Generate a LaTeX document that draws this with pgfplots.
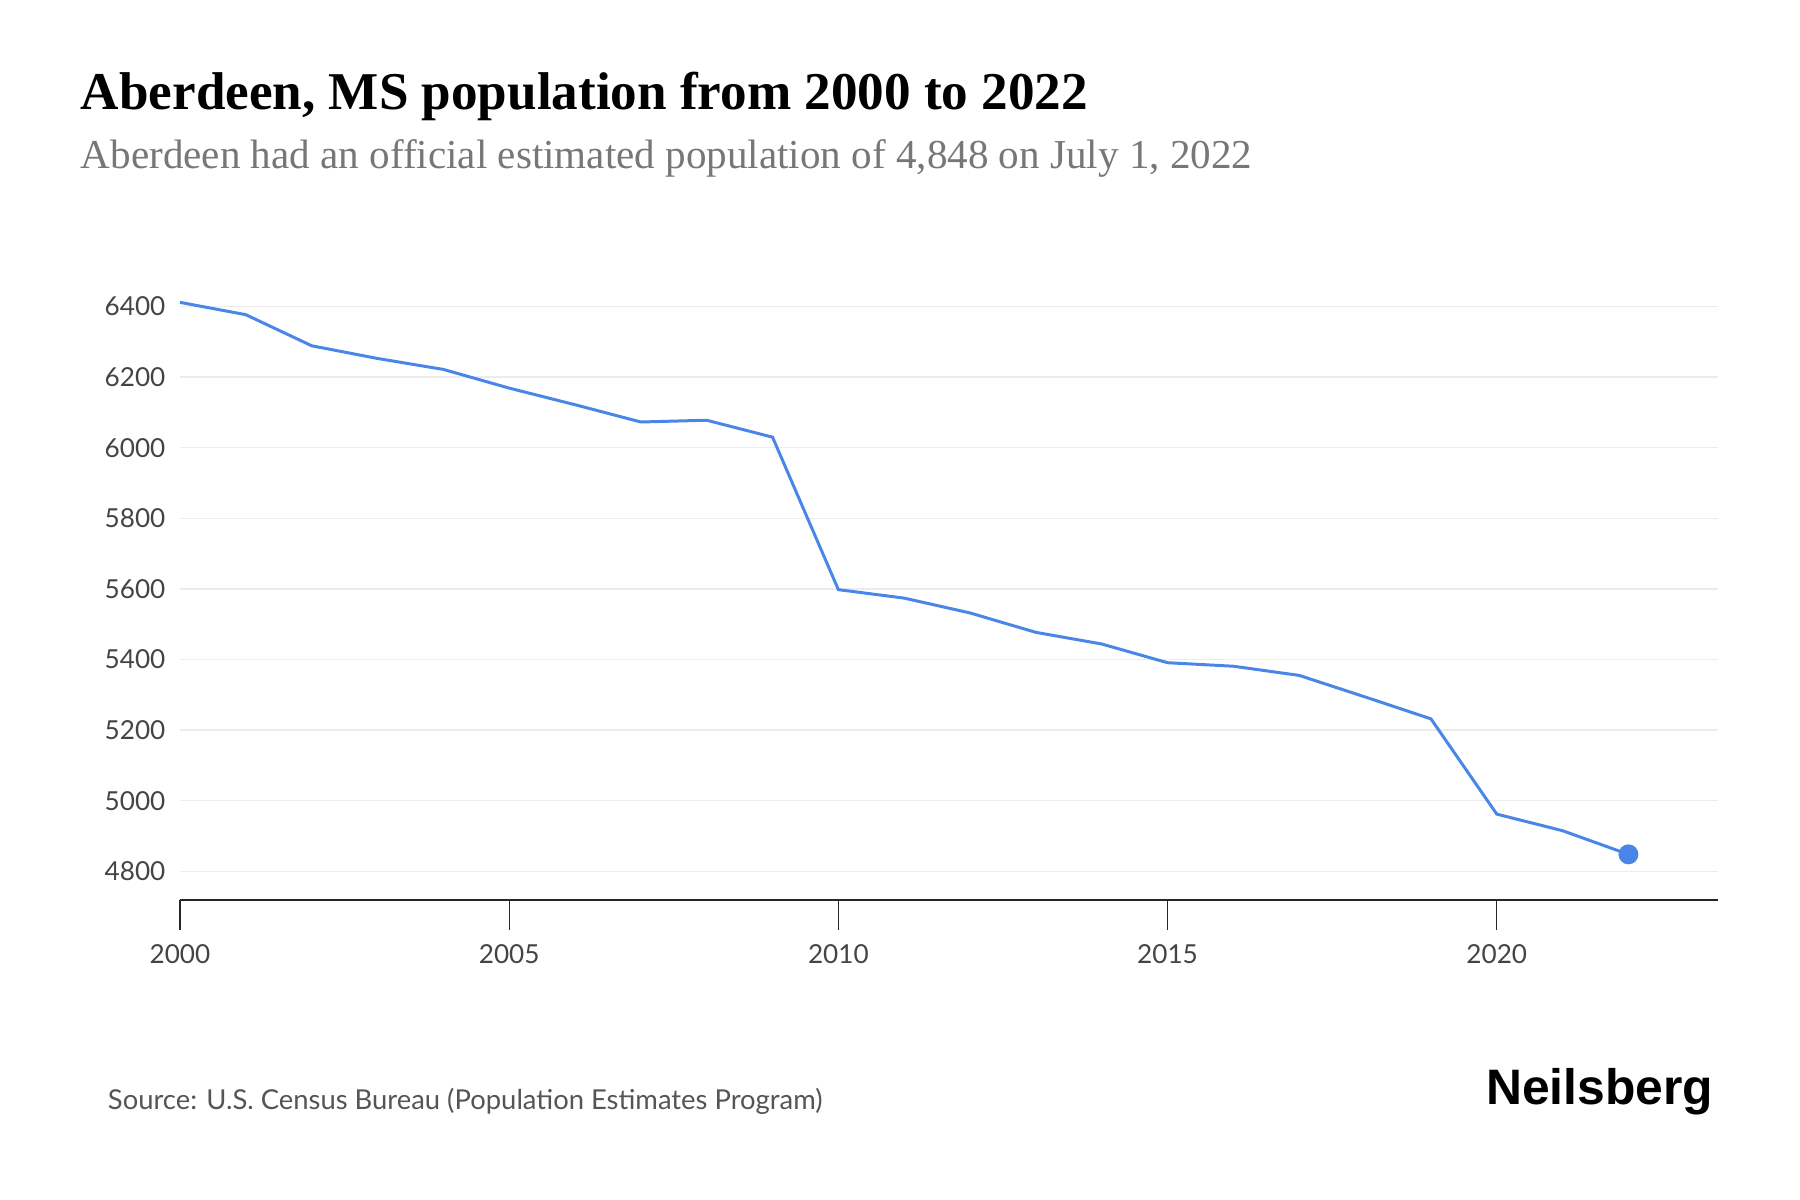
\documentclass[border=0pt]{standalone}
\usepackage{fontspec}
\usepackage{pgfplots}
\pgfplotsset{compat=1.18}
\setmainfont{Liberation Serif}
\newfontfamily\tickfont{Lato}
\newfontfamily\logofont{Liberation Sans}
\definecolor{linecol}{HTML}{4A86E8}
\definecolor{gridcol}{HTML}{ECECEC}
\definecolor{tickcol}{HTML}{444444}
\definecolor{subcol}{HTML}{777777}
\definecolor{srccol}{HTML}{555555}
\begin{document}
\begin{tikzpicture}
\useasboundingbox (0,0) rectangle (433.62pt,289.08pt);
\begin{axis}[
  at={(43.36pt,72.27pt)}, anchor=south west,
  scale only axis, width=370.5pt, height=147.2pt,
  xmin=2000, xmax=2023.36, ymin=4718.7, ymax=6450,
  axis x line*=bottom, axis y line*=left,
  y axis line style={draw=none},
  x axis line style={draw=black!85, line width=0.45pt},
  xtick={2000,2005,2010,2015,2020},
  ytick={4800,5000,5200,5400,5600,5800,6000,6200,6400},
  ymajorgrids, grid style={gridcol, line width=0.35pt},
  tick align=outside, major tick length=7.2pt,
  xtick style={draw=black!85, line width=0.3pt},
  ytick style={draw=none},
  /pgf/number format/assume math mode=true,
  /pgf/number format/1000 sep={},
  tick label style={font=\tickfont\fontsize{6.3}{7}\selectfont, text=tickcol},
  xticklabel style={yshift=0pt},
  yticklabel style={xshift=7.2pt},
  clip=false,
]
\addplot[linecol, line width=0.72pt] coordinates {
(2000,6412) (2001,6377) (2002,6289) (2003,6253) (2004,6222) (2005,6169)
(2006,6122) (2007,6073) (2008,6078) (2009,6030) (2010,5598) (2011,5574)
(2012,5532) (2013,5477) (2014,5444) (2015,5391) (2016,5381) (2017,5355)
(2018,5294) (2019,5232) (2020,4962) (2021,4915) (2022,4848)
};
\addplot[only marks, mark=*, mark size=2.2pt, color=linecol] coordinates {(2022,4848)};
\end{axis}
\node[anchor=base west, inner sep=0pt] at (19.3pt,262.8pt) {\fontsize{12.8}{14}\selectfont\bfseries Aberdeen, MS population from 2000 to 2022};
\node[anchor=base west, inner sep=0pt, text=subcol] at (19.3pt,248.4pt) {\fontsize{9.9}{12}\selectfont Aberdeen had an official estimated population of 4,848 on July 1, 2022};
\node[anchor=base west, inner sep=0pt, text=srccol] at (25.8pt,21.9pt) {\tickfont\fontsize{6.6}{8}\selectfont Source: U.S. Census Bureau (Population Estimates Program)};
\node[anchor=base east, inner sep=0pt] at (412.9pt,23.1pt) {\logofont\fontsize{12}{14}\selectfont\bfseries Neilsberg};
\end{tikzpicture}
\end{document}
